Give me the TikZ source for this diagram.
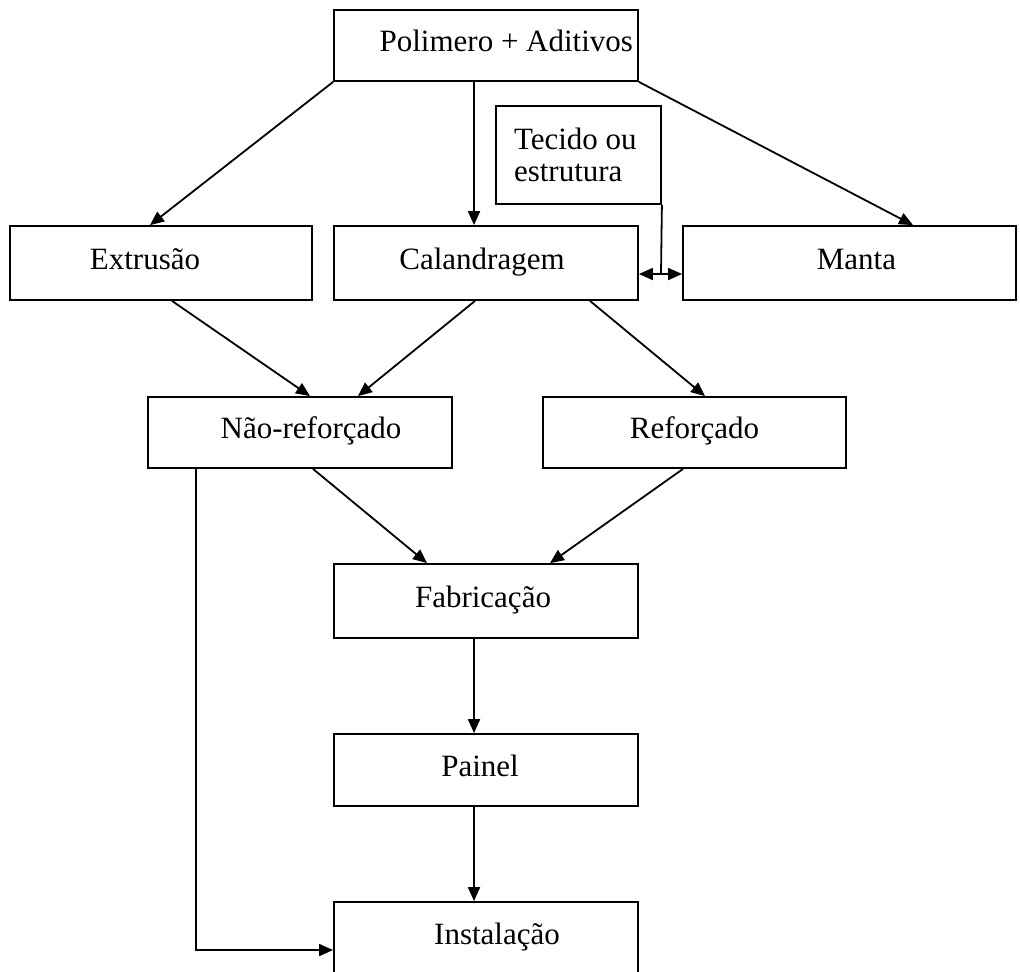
\documentclass[tikz,border=0pt]{standalone}
\usepackage{fontspec}
\setmainfont{Liberation Serif}
\usetikzlibrary{arrows.meta}

\begin{document}
\begin{tikzpicture}[x=0.5pt, y=-0.5pt, line width=0.9pt,
  font=\fontsize{15.5}{16}\selectfont,
  caixa/.style={draw, minimum width=152pt, inner sep=0pt, text height=10pt, text depth=4pt},
  seta/.style={-{Triangle[length=7pt,width=6pt]}},
  dupla/.style={{Triangle[length=7pt,width=6pt]}-{Triangle[length=7pt,width=6pt]}}]
\clip (0,0) rectangle (1020,971);
% caixas
\node[caixa, minimum height=35.5pt, text width=147pt, inner xsep=2.5pt, align=flush right] (pol) at (486,45.5) {Polimero + Aditivos};
\node[draw, inner sep=0pt, minimum width=82.5pt, minimum height=49pt, text width=64.5pt, inner xsep=9pt, align=flush left] (tec) at (578.5,155) {Tecido ou\\estrutura};
\node[caixa, minimum width=151pt, minimum height=37pt] (ext) at (161,263) {\hspace*{-16pt}Extrusão};
\node[caixa, minimum height=37pt] (cal) at (486,263) {\hspace*{-4pt}Calandragem};
\node[caixa, minimum width=166.5pt, minimum height=37pt] (man) at (849.5,263) {\hspace*{7pt}Manta};
\node[caixa, minimum height=35.5pt] (nrf) at (300,432.5) {\hspace*{11pt}Não-reforçado};
\node[caixa, minimum width=151.5pt, minimum height=35.5pt] (ref) at (694.5,432.5) {Reforçado};
\node[caixa, minimum height=37pt] (fab) at (486,601) {\hspace*{-3pt}Fabricação};
\node[caixa, minimum height=36pt] (pai) at (486,770) {\hspace*{-6pt}Painel};
\node[caixa, minimum height=36pt] (ins) at (486,938) {\hspace*{11pt}Instalação};
\coordinate (junta) at (661,274);
% ligacoes
\draw[seta] (pol.south west) -- ([xshift=-5.5pt]ext.north);
\draw[seta] ([xshift=-6pt]pol.south) -- ([xshift=-6pt]cal.north);
\draw[seta] (pol.south east) -- ([xshift=31.75pt]man.north);
\draw (tec.south east) -- (junta);
\draw[dupla] ([yshift=-5.5pt]cal.east) -- ([yshift=-5.5pt]man.west);
\draw[seta] ([xshift=5.5pt]ext.south) -- ([xshift=5pt]nrf.north);
\draw[seta] ([xshift=-5.5pt]cal.south) -- ([xshift=29pt]nrf.north);
\draw[seta] ([xshift=52pt]cal.south) -- ([xshift=5.25pt]ref.north);
\draw[seta] ([xshift=6.5pt]nrf.south) -- ([xshift=-29.5pt]fab.north);
\draw[seta] ([xshift=-5.75pt]ref.south) -- ([xshift=32pt]fab.north);
\draw[seta] ([xshift=-6pt]fab.south) -- ([xshift=-6pt]pai.north);
\draw[seta] ([xshift=-6pt]pai.south) -- ([xshift=-6pt]ins.north);
\draw[seta] ([xshift=-52pt]nrf.south) |- ([yshift=-6pt]ins.west);
\end{tikzpicture}
\end{document}
